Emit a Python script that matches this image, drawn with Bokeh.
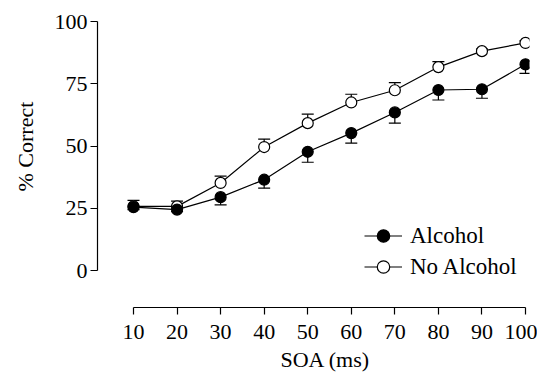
from bokeh.plotting import figure
from bokeh.models import (Range1d, FixedTicker, Whisker, TeeHead, ColumnDataSource,
                          Legend, LegendItem, Title)
from bokeh.embed import file_html
from bokeh.resources import INLINE

# ---- data ----
soa = [10, 20, 30, 40, 50, 60, 70, 80, 90, 100]
alcohol = [25.5, 24.5, 29.5, 36.5, 47.7, 55.2, 63.5, 72.5, 72.8, 82.8]
alcohol_err = [1.0, 0.8, 3.1, 3.4, 4.2, 4.0, 4.3, 4.0, 3.6, 3.6]
no_alcohol = [25.8, 25.8, 35.2, 49.6, 59.2, 67.5, 72.4, 81.7, 88.1, 91.4]
no_alcohol_err = [2.4, 2.1, 2.7, 3.2, 3.6, 3.3, 3.1, 2.2, 0.8, 0.8]
x_ticks = [10, 20, 30, 40, 50, 60, 70, 80, 90, 100]
y_ticks = [0, 25, 50, 75, 100]
series_names = ["Alcohol", "No Alcohol"]
x_title = "SOA (ms)"
y_title = "% Correct"

FONT = "Liberation Serif"
FS = "22px"

p = figure(width=537, height=374, output_backend="svg", toolbar_location=None,
           x_range=Range1d(1.735, 100.918), y_range=Range1d(-14.8, 100),
           min_border_left=97, min_border_top=21, min_border_right=8,
           min_border_bottom=66)
p.outline_line_color = None
p.xgrid.visible = False
p.ygrid.visible = False
p.background_fill_color = "white"
p.border_fill_color = "white"

for ax in (p.xaxis[0], p.yaxis[0]):
    ax.major_label_text_font = FONT
    ax.major_label_text_font_size = FS
    ax.major_label_text_color = "black"
    ax.axis_line_color = "black"
    ax.axis_line_width = 1.2
    ax.major_tick_line_color = "black"
    ax.major_tick_line_width = 1.2
    ax.major_tick_out = 7
    ax.major_tick_in = 0
    ax.minor_tick_line_color = None

p.xaxis[0].ticker = FixedTicker(ticks=x_ticks)
p.xaxis[0].bounds = (x_ticks[0], x_ticks[-1])
p.xaxis[0].major_label_standoff = 10
p.yaxis[0].ticker = FixedTicker(ticks=y_ticks)
p.yaxis[0].bounds = (y_ticks[0], y_ticks[-1])
p.yaxis[0].major_label_standoff = 3

# axis titles as side titles so they can be centred on the axis bounds
xt = Title(text=x_title, align="left", offset=183, vertical_align="bottom", standoff=6,
           text_font=FONT, text_font_size=FS, text_font_style="normal",
           text_color="black")
yt = Title(text=y_title, align="left", offset=116, vertical_align="top", standoff=24,
           text_font=FONT, text_font_size=FS, text_font_style="normal",
           text_color="black")
p.add_layout(xt, "below")
p.add_layout(yt, "left")

src = ColumnDataSource(dict(
    x=soa, a=alcohol, na=no_alcohol,
    a_lo=[v - e for v, e in zip(alcohol, alcohol_err)],
    na_hi=[v + e for v, e in zip(no_alcohol, no_alcohol_err)],
))

w_na = Whisker(source=src, base="x", lower="na", upper="na_hi",
               line_color="black", line_width=1.2,
               upper_head=TeeHead(size=12, line_color="black", line_width=1.2),
               lower_head=None, level="underlay")
w_a = Whisker(source=src, base="x", lower="a_lo", upper="a",
              line_color="black", line_width=1.2,
              lower_head=TeeHead(size=12, line_color="black", line_width=1.2),
              upper_head=None, level="underlay")
p.add_layout(w_na)
p.add_layout(w_a)

l_na = p.line("x", "na", source=src, line_color="black", line_width=1.2)
m_na = p.scatter("x", "na", source=src, marker="circle", size=11,
                 fill_color="white", line_color="black", line_width=1.2)
l_a = p.line("x", "a", source=src, line_color="black", line_width=1.2)
m_a = p.scatter("x", "a", source=src, marker="circle", size=11,
                fill_color="black", line_color="black", line_width=1.2)

legend = Legend(items=[LegendItem(label=series_names[0], renderers=[l_a, m_a]),
                       LegendItem(label=series_names[1], renderers=[l_na, m_na])],
                location=(267, 25))
legend.label_text_font = FONT
legend.label_text_font_size = "23px"
legend.label_text_color = "black"
legend.glyph_width = 38
legend.glyph_height = 31
legend.label_height = 31
legend.label_standoff = 8
legend.spacing = 0
legend.padding = 0
legend.margin = 0
legend.border_line_color = None
legend.background_fill_alpha = 0
p.add_layout(legend, "center")

open("out.html", "w").write(file_html(p, INLINE))
